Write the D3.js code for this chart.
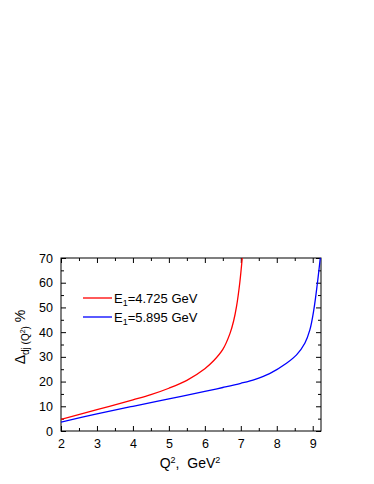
<!DOCTYPE html>
<html>
<head>
<meta charset="utf-8">
<script src="https://cdn.jsdelivr.net/npm/d3@7"></script>
<style>
  body { margin: 0; background: #fff; }
  svg text { font-family: Arial, "Liberation Sans", sans-serif; fill: #000; }
</style>
</head>
<body>
<div id="chart"></div>
<script>
// values
const redQ2 = [2, 3, 4, 4.5, 5, 5.5, 6, 6.25, 6.5, 6.7, 6.8, 6.88, 6.97, 7.04];
const redVal = [4.7, 8.6, 12.6, 14.7, 17.3, 20.5, 25.2, 28.5, 33, 39.5, 44.5, 50.3, 59.8, 70];
const blueQ2 = [2, 3, 4, 5, 6, 6.5, 7, 7.4, 7.8, 8.27, 8.55, 8.78, 8.92, 9.03, 9.13, 9.21];
const blueVal = [3.6, 6.9, 10, 13, 16, 17.6, 19.3, 20.9, 23.2, 27.4, 30.8, 35.5, 40.9, 49, 59.8, 70];
const xTicks = [2, 3, 4, 5, 6, 7, 8, 9];
const yTicks = [0, 10, 20, 30, 40, 50, 60, 70];
const legendLabels = ['4.725 GeV', '5.895 GeV'];
const seriesColors = ['#ff0000', '#0000ff'];

const width = 374, height = 484;
const margin = { left: 61, right: 53, top: 258, bottom: 53 };

const svg = d3.select('#chart').append('svg')
  .attr('width', width).attr('height', height);

const x = d3.scaleLinear().domain([2, 9.23]).range([margin.left, width - margin.right]);
const y = d3.scaleLinear().domain([0, 70]).range([height - margin.bottom, margin.top]);

const minorX = d3.range(2.5, 9.23, 1);
const minorY = d3.range(5, 70, 10);

function tickAxis(axisFn, scale, major, minor, tr, labels) {
  const gMaj = svg.append('g').attr('transform', tr)
    .call(axisFn(scale).tickValues(major).tickSize(-5).tickPadding(labels ? 8 : 0)
      .tickFormat(labels ? d3.format('d') : ''));
  gMaj.select('.domain').remove();
  gMaj.selectAll('text').style('font-size', '12.5px');
  const gMin = svg.append('g').attr('transform', tr)
    .call(axisFn(scale).tickValues(minor).tickSize(-3).tickFormat(''));
  gMin.select('.domain').remove();
  return gMaj;
}

tickAxis(d3.axisBottom, x, xTicks, minorX, `translate(0,${y(0)})`, true);
tickAxis(d3.axisTop, x, xTicks, minorX, `translate(0,${y(70)})`, false);
tickAxis(d3.axisLeft, y, yTicks, minorY, `translate(${x(2)},0)`, true);
tickAxis(d3.axisRight, y, yTicks, minorY, `translate(${x(9.23)},0)`, false);

svg.append('rect')
  .attr('x', x(2)).attr('y', y(70))
  .attr('width', x(9.23) - x(2)).attr('height', y(0) - y(70))
  .attr('fill', 'none').attr('stroke', '#000').attr('stroke-width', 1);

const line = d3.line().curve(d3.curveCatmullRom.alpha(0.5))
  .x(d => x(d[0])).y(d => y(d[1]));

const series = [
  d3.zip(redQ2, redVal),
  d3.zip(blueQ2, blueVal)
];

svg.append('defs').append('clipPath').attr('id', 'clip')
  .append('rect').attr('x', x(2)).attr('y', y(70))
  .attr('width', x(9.23) - x(2)).attr('height', y(0) - y(70));

svg.append('g').attr('clip-path', 'url(#clip)')
  .selectAll('path').data(series).join('path')
  .attr('d', line)
  .attr('fill', 'none')
  .attr('stroke', (d, i) => seriesColors[i])
  .attr('stroke-width', 1.3);

// legend
const leg = svg.append('g');
legendLabels.forEach((lab, i) => {
  const ly = 298 + i * 19;
  leg.append('line').attr('x1', 83).attr('x2', 112).attr('y1', ly).attr('y2', ly)
    .attr('stroke', seriesColors[i]).attr('stroke-width', 1.3);
  const t = leg.append('text').attr('x', 114).attr('y', ly + 5).style('font-size', '13px');
  t.append('tspan').text('E');
  t.append('tspan').attr('dy', 3).style('font-size', '9px').text('1');
  t.append('tspan').attr('dy', -3).text('=' + lab);
});

// x label
const xl = svg.append('text').attr('x', 190).attr('y', 468)
  .attr('text-anchor', 'middle').style('font-size', '14px');
xl.append('tspan').text('Q');
xl.append('tspan').attr('dy', -5).style('font-size', '9px').text('2');
xl.append('tspan').attr('dy', 5).text(',\u00a0\u00a0GeV');
xl.append('tspan').attr('dy', -5).style('font-size', '9px').text('2');

// y label
const yl = svg.append('text')
  .attr('transform', 'translate(25,337) rotate(-90)')
  .attr('text-anchor', 'middle').style('font-size', '14px');
yl.append('tspan').text('\u0394');
yl.append('tspan').attr('dy', 4).style('font-size', '10px').text('dj (Q');
yl.append('tspan').attr('dy', -4).style('font-size', '7px').text('2');
yl.append('tspan').attr('dy', 4).style('font-size', '10px').text(')');
yl.append('tspan').attr('dy', -4).text(' %');
</script>
</body>
</html>
